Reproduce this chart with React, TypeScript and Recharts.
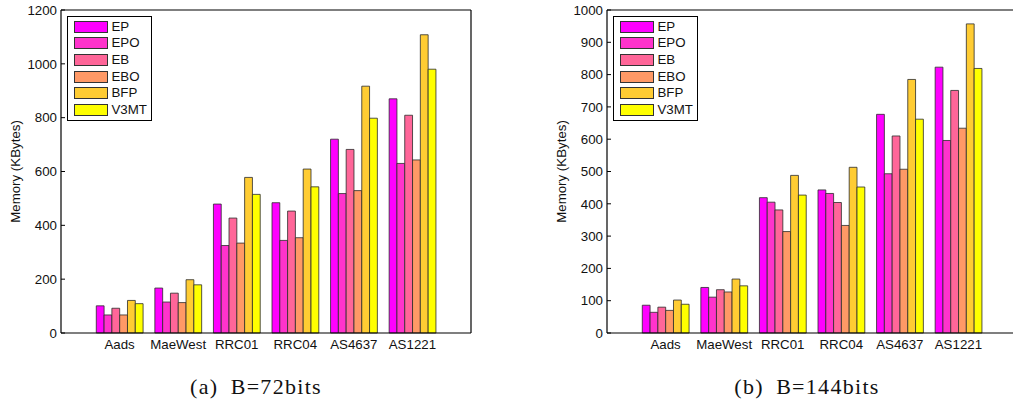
import React from 'react';
import { BarChart, Bar, XAxis, YAxis, Legend } from 'recharts';

// routing tables
const categories = ['Aads', 'MaeWest', 'RRC01', 'RRC04', 'AS4637', 'AS1221'];
const seriesNames = ['EP', 'EPO', 'EB', 'EBO', 'BFP', 'V3MT'];
const seriesColors = ['#ff00ff', '#ff33cc', '#ff6699', '#ff9966', '#ffcc33', '#ffff00'];

// memory (KBytes), B = 72 bits
const ep72 = [101, 167, 479, 484, 720, 870];
const epo72 = [67, 115, 325, 344, 518, 630];
const eb72 = [92, 148, 427, 453, 682, 809];
const ebo72 = [67, 113, 334, 354, 529, 643];
const bfp72 = [121, 198, 578, 609, 917, 1108];
const v3mt72 = [109, 179, 515, 543, 798, 980];

// memory (KBytes), B = 144 bits
const ep144 = [86, 141, 419, 443, 677, 823];
const epo144 = [64, 111, 405, 432, 493, 596];
const eb144 = [80, 134, 381, 404, 610, 751];
const ebo144 = [70, 127, 314, 333, 507, 634];
const bfp144 = [102, 167, 488, 513, 785, 957];
const v3mt144 = [89, 146, 427, 452, 662, 819];

const ticks72 = [0, 200, 400, 600, 800, 1000, 1200];
const ticks144 = [0, 100, 200, 300, 400, 500, 600, 700, 800, 900, 1000];

const buildRows = (series: number[][]) =>
  categories.map((name, i) => {
    const row: any = { name };
    seriesNames.forEach((s, j) => (row[s] = series[j][i]));
    return row;
  });

const data72 = buildRows([ep72, epo72, eb72, ebo72, bfp72, v3mt72]);
const data144 = buildRows([ep144, epo144, eb144, ebo144, bfp144, v3mt144]);

const FONT = '"Liberation Sans", Arial, Helvetica, sans-serif';
const TXT = '#111';
const PLOT_W = 410;
const PAD = PLOT_W / 14;

const LegendBox = ({ payload }: any) => {
  const items = [...(payload || [])].sort(
    (a: any, b: any) => seriesNames.indexOf(a.value) - seriesNames.indexOf(b.value)
  );
  return (
    <div
      style={{
        border: '1.3px solid #000',
        background: '#fff',
        width: 85,
        height: 105,
        boxSizing: 'border-box',
        padding: '2px 0 0 6px',
        fontFamily: FONT,
      }}
    >
      {items.map((p: any) => (
        <div key={p.value} style={{ display: 'flex', alignItems: 'center', height: 16.67 }}>
          <span
            style={{
              display: 'inline-block',
              width: 34,
              height: 12,
              background: p.color,
              border: '1px solid #333',
              boxSizing: 'border-box',
            }}
          />
          <span style={{ marginLeft: 4, fontSize: 13.3, color: TXT, lineHeight: '14px' }}>{p.value}</span>
        </div>
      ))}
    </div>
  );
};

const MemoryChart = ({ data, ticks, max }: { data: any[]; ticks: number[]; max: number }) => (
  <BarChart
    width={500}
    height={360}
    data={data}
    margin={{ top: 9, right: 28, bottom: 0, left: 0 }}
    barGap={0}
    barSize={7.8}
    style={{ fontFamily: FONT }}
  >
    <XAxis
      dataKey="name"
      height={27}
      padding={{ left: PAD, right: PAD }}
      tickLine={false}
      tickSize={5}
      tickMargin={2}
      axisLine={{ stroke: '#000', strokeWidth: 1.2 }}
      tick={{ fill: TXT, fontSize: 13.3 }}
      interval={0}
    />
    <XAxis
      xAxisId="top"
      orientation="top"
      dataKey="name"
      height={1}
      padding={{ left: PAD, right: PAD }}
      tick={false}
      tickSize={-4}
      tickLine={{ stroke: '#000' }}
      axisLine={{ stroke: '#000', strokeWidth: 1.2 }}
      interval={0}
    />
    <YAxis
      width={61}
      type="number"
      domain={[0, max]}
      ticks={ticks}
      interval={0}
      tickSize={-4}
      tickMargin={8}
      tickLine={{ stroke: '#000' }}
      axisLine={{ stroke: '#000', strokeWidth: 1.2 }}
      tick={{ fill: TXT, fontSize: 13.3 }}
      label={{
        value: 'Memory (KBytes)',
        angle: -90,
        position: 'insideLeft',
        offset: 15,
        style: { textAnchor: 'middle', fill: TXT, fontSize: 13.3 },
      }}
    />
    <YAxis
      yAxisId="right"
      orientation="right"
      width={1}
      type="number"
      domain={[0, max]}
      ticks={ticks}
      interval={0}
      tick={false}
      tickSize={-4}
      tickLine={{ stroke: '#000' }}
      axisLine={{ stroke: '#000', strokeWidth: 1.2 }}
    />
    <Legend
      layout="vertical"
      align="center"
      verticalAlign="middle"
      content={<LegendBox />}
      wrapperStyle={{ left: 66.5, top: 15.5, width: 85, height: 105 }}
    />
    {seriesNames.map((s, i) => (
      <Bar
        key={s}
        dataKey={s}
        name={s}
        fill={seriesColors[i]}
        stroke="#2b2b2b"
        strokeWidth={0.8}
        isAnimationActive={false}
      />
    ))}
  </BarChart>
);

const captionStyle: React.CSSProperties = {
  position: 'absolute',
  top: 376,
  width: 300,
  textAlign: 'center',
  fontFamily: '"Liberation Serif", "Times New Roman", serif',
  fontSize: 22,
  lineHeight: '22px',
  letterSpacing: 1.3,
  color: '#111',
  whiteSpace: 'pre',
};

export default function App() {
  return (
    <div style={{ position: 'relative', width: 1013, height: 403, overflow: 'hidden', background: '#fff' }}>
      <style>{'body{margin:0}'}</style>
      <div style={{ position: 'absolute', left: 0, top: 0 }}>
        <MemoryChart data={data72} ticks={ticks72} max={1200} />
      </div>
      <div style={{ position: 'absolute', left: 546, top: 0 }}>
        <MemoryChart data={data144} ticks={ticks144} max={1000} />
      </div>
      <div style={{ ...captionStyle, left: 256 - 150 }}>{'(a)\u2002B=72bits'}</div>
      <div style={{ ...captionStyle, left: 807 - 150 }}>{'(b)\u2002B=144bits'}</div>
    </div>
  );
}
